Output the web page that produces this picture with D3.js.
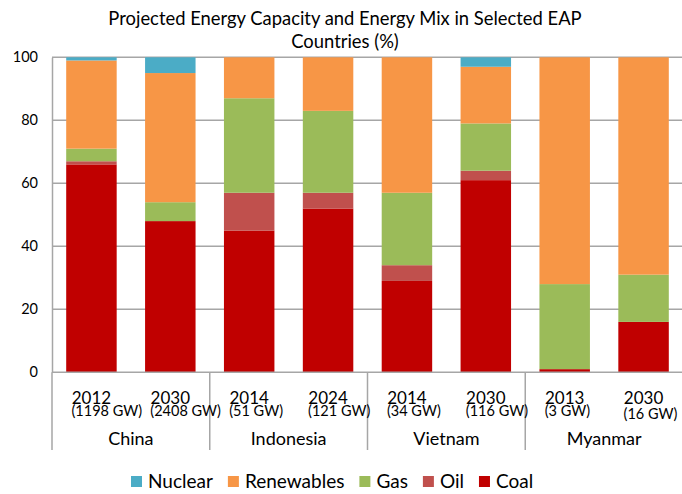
<!DOCTYPE html>
<html><head><meta charset="utf-8">
<script src="https://cdn.jsdelivr.net/npm/d3@7"></script>
<style>body{margin:0;background:#fff}svg{display:block;font-family:Lato,"Open Sans",sans-serif}</style>
</head><body><svg id="c" width="682" height="494"></svg>
<script>
const countries = ["China","Indonesia","Vietnam","Myanmar"];
const years = ["2012","2030","2014","2024","2014","2030","2013","2030"];
const capacity = ["(1198 GW)","(2408 GW)","(51 GW)","(121 GW)","(34 GW)","(116 GW)","(3 GW)","(16 GW)"];
const seriesNames = ["Coal","Oil","Gas","Renewables","Nuclear"];
const coal = [66,48,45,52,29,61,1,16];
const oil = [1,0,12,5,5,3,0,0];
const gas = [4,6,30,26,23,15,27,15];
const renewables = [28,41,13,17,43,18,72,69];
const nuclear = [1,5,0,0,0,3,0,0];
const yTicks = [0,20,40,60,80,100];
const legendOrder = ["Nuclear","Renewables","Gas","Oil","Coal"];
const colors = {Coal:"#C00000",Oil:"#C0504D",Gas:"#9BBB59",Renewables:"#F79646",Nuclear:"#4BACC6"};

(function(){
const rows = years.map((y,i)=>({id:i,Coal:coal[i],Oil:oil[i],Gas:gas[i],Renewables:renewables[i],Nuclear:nuclear[i]}));
const svg = d3.select("#c");
const pl=52,pr=683,pt=57.3,pb=372.3;
const x = d3.scaleBand().domain(d3.range(8)).range([pl,pr]).paddingInner(0.36).paddingOuter(0.18);
const y = d3.scaleLinear().domain([0,100]).range([pb,pt]);
const grid="#A6A6A6";

svg.append("g").selectAll("line").data(yTicks.filter(t=>t>0)).join("line")
  .attr("x1",pl).attr("x2",682).attr("y1",d=>y(d)).attr("y2",d=>y(d))
  .attr("stroke",grid).attr("stroke-width",1.5);

const stack = d3.stack().keys(seriesNames)(rows);
svg.append("g").selectAll("g").data(stack).join("g").attr("fill",d=>colors[d.key])
  .selectAll("rect").data(d=>d).join("rect")
  .attr("x",d=>x(d.data.id)).attr("width",x.bandwidth())
  .attr("y",d=>y(d[1])).attr("height",d=>y(d[0])-y(d[1]));

const yAxis = svg.append("g").attr("transform",`translate(${pl},0)`)
  .call(d3.axisLeft(y).tickValues(yTicks).tickSize(0).tickPadding(14));
yAxis.select(".domain").attr("stroke",grid).attr("stroke-width",1.5);
yAxis.selectAll("text").attr("font-size",14.5).attr("fill","#000").attr("font-family","Lato");

svg.append("line").attr("x1",pl).attr("x2",682).attr("y1",pb).attr("y2",pb).attr("stroke",grid).attr("stroke-width",1.5);
const step = x.step();
const seps = d3.range(5).map(k=>pl+k*2*step);
svg.append("g").selectAll("line").data(seps).join("line")
  .attr("x1",d=>d).attr("x2",d=>d).attr("y1",pb).attr("y2",450)
  .attr("stroke",grid).attr("stroke-width",1.5);

const xl = svg.append("g");
xl.selectAll("text.yr").data(years).join("text").attr("class","yr")
  .attr("x",(d,i)=>x(i)+x.bandwidth()/2).attr("y",404).attr("text-anchor","middle")
  .attr("font-size",17).text(d=>d);
xl.selectAll("text.gw").data(capacity).join("text").attr("class","gw")
  .attr("x",(d,i)=>x(i)+x.bandwidth()/2-20).attr("y",(d,i)=>i===7?419:416)
  .attr("font-size",14.5).text(d=>d);
xl.selectAll("text.ct").data(countries).join("text").attr("class","ct")
  .attr("x",(d,i)=>pl+(2*i+1)*step).attr("y",445).attr("text-anchor","middle")
  .attr("font-size",18).text(d=>d);

svg.append("text").attr("x",345).attr("y",25).attr("text-anchor","middle").attr("font-size",18.4)
  .text("Projected Energy Capacity and Energy Mix in Selected EAP");
svg.append("text").attr("x",345).attr("y",48).attr("text-anchor","middle").attr("font-size",18.4)
  .text("Countries (%)");

const lg = svg.append("g");
let lx = 131;
legendOrder.forEach(k=>{
  lg.append("rect").attr("x",lx).attr("y",476).attr("width",11).attr("height",11).attr("fill",colors[k]);
  const t = lg.append("text").attr("x",lx+17).attr("y",488).attr("font-size",19).text(k);
  lx += 17 + t.node().getComputedTextLength() + 15;
});
})();
</script></body></html>
